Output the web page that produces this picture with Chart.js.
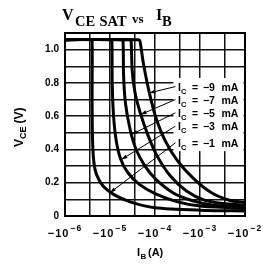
<!DOCTYPE html>
<html>
<head>
<meta charset="utf-8">
<title>VCE SAT vs IB</title>
<script src="https://cdn.jsdelivr.net/npm/chart.js@4.4.0/dist/chart.umd.min.js"></script>
<style>
  html, body { margin: 0; padding: 0; background: #fff; }
  #wrap { width: 263px; height: 266px; }
</style>
</head>
<body>
<div id="wrap"><canvas id="vceChart" width="263" height="266"></canvas></div>
<script>
/* ---------- Data ---------- */
// |I_B| in amps, V_CE(sat) in volts, one pair of arrays per collector current
const ibIc1  = [1e-6, 3.7e-6, 4.0e-6, 4.0e-6, 4.1e-6, 4.4e-6, 5.0e-6, 7.0e-6, 1.2e-5, 2.8e-5, 1e-4, 1e-3, 1e-2];
const vceIc1 = [1.06, 1.06, 1.05, 0.70, 0.45, 0.32, 0.25, 0.18, 0.13, 0.085, 0.05, 0.035, 0.03];
const ibIc3  = [1e-6, 1.02e-5, 1.1e-5, 1.12e-5, 1.2e-5, 1.38e-5, 1.74e-5, 2.5e-5, 4.5e-5, 1e-4, 3.2e-4, 1e-3, 1e-2];
const vceIc3 = [1.06, 1.06, 1.05, 0.80, 0.60, 0.45, 0.34, 0.26, 0.19, 0.135, 0.085, 0.06, 0.045];
const ibIc5  = [1e-6, 1.8e-5, 1.95e-5, 2.0e-5, 2.2e-5, 2.8e-5, 3.8e-5, 6.0e-5, 1.05e-4, 2.5e-4, 6.3e-4, 2e-3, 1e-2];
const vceIc5 = [1.06, 1.06, 1.05, 0.85, 0.68, 0.52, 0.40, 0.30, 0.22, 0.14, 0.095, 0.065, 0.055];
const ibIc7  = [1e-6, 2.75e-5, 2.95e-5, 3.1e-5, 3.55e-5, 4.7e-5, 7.1e-5, 1.12e-4, 2.2e-4, 5e-4, 1.25e-3, 3.2e-3, 1e-2];
const vceIc7 = [1.06, 1.06, 1.05, 0.88, 0.75, 0.62, 0.48, 0.36, 0.24, 0.15, 0.095, 0.075, 0.065];
const ibIc9  = [1e-6, 4.3e-5, 4.65e-5, 5.5e-5, 7.5e-5, 1.05e-4, 1.7e-4, 3.2e-4, 7.5e-4, 1.8e-3, 4.5e-3, 1e-2];
const vceIc9 = [1.06, 1.06, 1.05, 0.92, 0.74, 0.59, 0.45, 0.33, 0.22, 0.14, 0.095, 0.08];

// curve labels, top to bottom
const icLabels = ['−9', '−7', '−5', '−3', '−1'];

// axes
const xTicks = [1e-6, 3.5e-6, 1e-5, 3.5e-5, 1e-4, 3.5e-4, 1e-3, 3.5e-3, 1e-2];
const xTickLabels = ['−10^−6', '', '−10^−5', '', '−10^−4', '', '−10^−3', '', '−10^−2'];
const yTicks = [0, 0.1, 0.2, 0.3, 0.4, 0.5, 0.6, 0.7, 0.8, 0.9, 1.0, 1.1];
const yTickLabels = ['0', '', '0.2', '', '0.4', '', '0.6', '', '0.8', '', '1.0', ''];

const sans = '"Liberation Sans", Arial, sans-serif';
const serif = '"Liberation Serif", "Times New Roman", serif';

function toPoints(xs, ys) {
    return xs.map((v, i) => ({ x: v, y: ys[i] }));
}

/* ---------- Text, labels and leaders ---------- */
// where the label block sits and where each leader lands (data units)
const labelIB = 2.7e-4;
const labelRowV = [0.778, 0.70, 0.62, 0.54, 0.44];
const leaderIB = [7.5e-5, 4.8e-5, 3.0e-5, 1.8e-5, 1.0e-5];
const leaderV = [0.74, 0.61, 0.49, 0.34, 0.14];

const sheetText = {
    id: 'sheetText',
    beforeDatasetsDraw(chart) {
        const { ctx, chartArea, scales: { x, y } } = chart;
        // white patch under the labels hides the grid, like on the sheet
        const left = x.getPixelForValue(labelIB) - 1;
        const top = y.getPixelForValue(0.83);
        const bottom = y.getPixelForValue(0.39);
        ctx.save();
        ctx.fillStyle = '#fff';
        ctx.fillRect(left, top, chartArea.right - 1.5 - left, bottom - top);
        // frame round the plot
        ctx.strokeStyle = '#000';
        ctx.lineWidth = 2;
        ctx.strokeRect(chartArea.left, chartArea.top, chartArea.right - chartArea.left, chartArea.bottom - chartArea.top);
        ctx.restore();
    },
    afterDraw(chart) {
        const { ctx, scales: { x, y } } = chart;
        ctx.save();
        ctx.fillStyle = '#000';
        ctx.strokeStyle = '#000';
        ctx.textBaseline = 'alphabetic';
        ctx.textAlign = 'left';

        // title: V_CE SAT vs I_B
        ctx.font = 'bold 16px ' + serif;
        ctx.fillText('V', 62, 20);
        ctx.font = 'bold 14.5px ' + serif;
        ctx.fillText('CE', 75, 26);
        ctx.fillText('SAT', 99.5, 26);
        ctx.font = 'bold 13px ' + serif;
        ctx.fillText('vs', 132, 23);
        ctx.font = 'bold 16px ' + serif;
        ctx.fillText('I', 156, 20);
        ctx.font = 'bold 14.5px ' + serif;
        ctx.fillText('B', 162, 26);

        // y axis title, rotated
        ctx.save();
        ctx.translate(23, 147);
        ctx.rotate(-Math.PI / 2);
        ctx.font = 'bold 12px ' + sans;
        ctx.fillText('V', 0, 0);
        let w = ctx.measureText('V').width;
        ctx.font = 'bold 9px ' + sans;
        ctx.fillText('CE', w, 3);
        w += ctx.measureText('CE').width + 3;
        ctx.font = 'bold 12px ' + sans;
        ctx.fillText('(V)', w, 0);
        ctx.restore();

        // x axis title
        ctx.font = 'bold 11px ' + sans;
        ctx.fillText('I', 137, 256);
        ctx.font = 'bold 8px ' + sans;
        ctx.fillText('B', 140.5, 259);
        ctx.font = 'bold 11px ' + sans;
        ctx.fillText('(A)', 148, 256);

        // x tick labels with raised exponents
        const base = y.getPixelForValue(0) + 21;
        xTicks.forEach((v, i) => {
            const lab = xTickLabels[i];
            if (!lab) return;
            const [mant, exp] = lab.split('^');
            ctx.font = 'bold 11px ' + sans;
            ctx.letterSpacing = '1px';
            const mw = ctx.measureText(mant).width;
            ctx.font = 'bold 8.5px ' + sans;
            const ew = ctx.measureText(exp).width;
            const px = x.getPixelForValue(v) - (mw + ew + 1) / 2;
            ctx.font = 'bold 11px ' + sans;
            ctx.fillText(mant, px, base);
            ctx.font = 'bold 8.5px ' + sans;
            ctx.fillText(exp, px + mw + 1, base - 6);
        });
        ctx.letterSpacing = '0px';

        // curve labels and leader lines
        const lx = x.getPixelForValue(labelIB);
        icLabels.forEach((lab, i) => {
            const ry = y.getPixelForValue(labelRowV[i]);
            const tx = x.getPixelForValue(leaderIB[i]);
            const ty = y.getPixelForValue(leaderV[i]);
            ctx.lineWidth = 1;
            ctx.beginPath();
            ctx.moveTo(lx + 1, ry);
            ctx.lineTo(tx, ty);
            ctx.stroke();
            // small arrow head on the curve end
            const a = Math.atan2(ty - ry, tx - lx);
            ctx.beginPath();
            ctx.moveTo(tx, ty);
            ctx.lineTo(tx - 6 * Math.cos(a) + 2 * Math.sin(a), ty - 6 * Math.sin(a) - 2 * Math.cos(a));
            ctx.lineTo(tx - 6 * Math.cos(a) - 2 * Math.sin(a), ty - 6 * Math.sin(a) + 2 * Math.cos(a));
            ctx.closePath();
            ctx.fill();

            ctx.font = 'bold 10.5px ' + sans;
            ctx.fillText('I', lx + 3.5, ry + 4);
            ctx.font = 'bold 7.5px ' + sans;
            ctx.fillText('C', lx + 6.5, ry + 7);
            ctx.font = 'bold 10.5px ' + sans;
            ctx.fillText('=', lx + 17.5, ry + 4);
            ctx.fillText(lab, lx + 28.5, ry + 4);
            ctx.fillText('mA', lx + 47, ry + 4);
        });
        ctx.restore();
    }
};

/* ---------- Chart ---------- */
function curve(xs, ys) {
    return {
        data: toPoints(xs, ys),
        borderColor: '#000',
        borderWidth: 3,
        borderJoinStyle: 'round',
        pointRadius: 0,
        tension: 0.25,
        fill: false
    };
}

new Chart(document.getElementById('vceChart'), {
    type: 'line',
    data: {
        datasets: [
            curve(ibIc9, vceIc9),
            curve(ibIc7, vceIc7),
            curve(ibIc5, vceIc5),
            curve(ibIc3, vceIc3),
            curve(ibIc1, vceIc1)
        ]
    },
    options: {
        responsive: false,
        devicePixelRatio: 1,
        animation: false,
        layout: { padding: { top: 33, right: 18, left: 0, bottom: 0 } },
        plugins: { legend: { display: false }, tooltip: { enabled: false } },
        scales: {
            x: {
                type: 'logarithmic',
                min: 1e-6,
                max: 1e-2,
                afterBuildTicks: s => { s.ticks = xTicks.map(v => ({ value: v })); },
                afterFit: s => { s.height = 50; },
                ticks: { display: false },
                grid: { color: '#111', lineWidth: 1.5, drawTicks: false },
                border: { color: '#000', width: 2 }
            },
            y: {
                type: 'linear',
                min: 0,
                max: 1.1,
                afterBuildTicks: s => { s.ticks = yTicks.map(v => ({ value: v })); },
                afterFit: s => { s.width = 65; },
                ticks: {
                    callback: (v, i) => yTickLabels[i],
                    color: '#000',
                    padding: 6,
                    font: { family: sans, size: 10, weight: 'bold' }
                },
                grid: { color: '#111', lineWidth: 1.5, drawTicks: false },
                border: { color: '#000', width: 2 }
            }
        }
    },
    plugins: [sheetText]
});
</script>
</body>
</html>
